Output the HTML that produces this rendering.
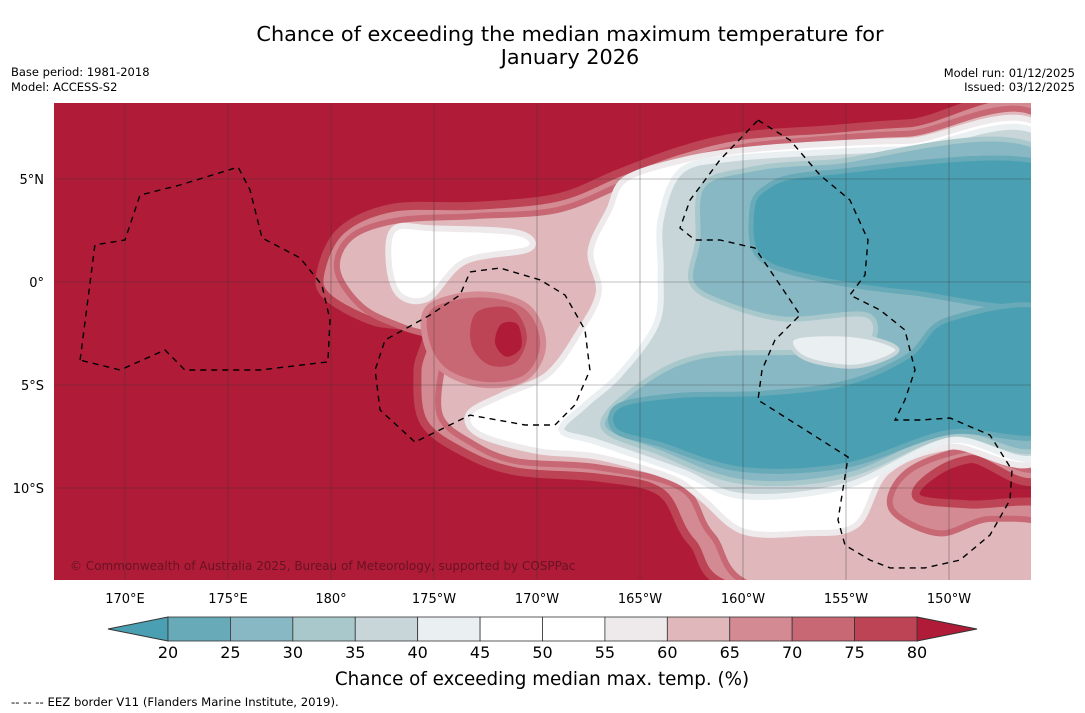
<!DOCTYPE html>
<html><head><meta charset="utf-8"><style>
body{margin:0;background:#fff;font-family:"DejaVu Sans","Liberation Sans",sans-serif;}
svg{display:block}
</style></head><body>
<svg id="chart" width="1085" height="713" viewBox="0 0 1085 713" xmlns="http://www.w3.org/2000/svg" font-family="DejaVu Sans, Liberation Sans, sans-serif">
<rect width="1085" height="713" fill="#fff"/>
<text x="570" y="41" font-size="20.8" text-anchor="middle" fill="#000">Chance of exceeding the median maximum temperature for</text>
<text x="570" y="64" font-size="20.8" text-anchor="middle" fill="#000">January 2026</text>
<text x="11" y="76" font-size="11.5">Base period: 1981-2018</text>
<text x="11" y="91" font-size="11.5">Model: ACCESS-S2</text>
<text x="1075" y="77" font-size="11.5" text-anchor="end">Model run: 01/12/2025</text>
<text x="1075" y="91" font-size="11.5" text-anchor="end">Issued: 03/12/2025</text>
<defs><clipPath id="mapclip"><rect x="54" y="103" width="977" height="477"/></clipPath></defs>
<g id="map" clip-path="url(#mapclip)"></g>
<g id="xticks"></g>
<g id="cbar"></g>
<text x="542" y="685" font-size="18.3" text-anchor="middle">Chance of exceeding median max. temp. (%)</text>
<text x="11" y="706" font-size="11.7">--  --  -- EEZ border V11 (Flanders Marine Institute, 2019).</text>
</svg>
<script>
const NS="http://www.w3.org/2000/svg";
const lonTicks=[170,175,180,185,190,195,200,205,210];
const lonTickLabels=["170°E","175°E","180°","175°W","170°W","165°W","160°W","155°W","150°W"];
const latTicks=[5,0,-5,-10];
const latTickLabels=["5°N","0°","5°S","10°S"];
const levels=[20,25,30,35,40,45,50,55,60,65,70,75,80];
const levelColors=["#68aab8","#88b8c4","#a8c8cc","#c8d6da","#eaf0f2","#ffffff","#ffffff","#eeeaec","#e0b8bc","#d48a92","#c86874","#bc4454"];
const lowColor="#4aa0b2", highColor="#b01c38";
const regionA=[[179.5,0.5],[180.5,2.5],[183,3.6],[187,3.7],[191,4.1],[194,5.3],[197,6.4],[200,7.1],[204,7.4],[208,7.7],[215,7.9],[215,-8.5],[211,-8.6],[209,-9.5],[208.5,-10.5],[211,-10.8],[215,-11],[215,-15],[200.5,-15],[197.5,-12.6],[196,-10.2],[193,-9.5],[189,-9.2],[186.5,-8.3],[184.5,-6.8],[184.2,-4.3],[184.5,-2.4],[182,-1.9],[179.8,-0.7]];
const regionB=[[180.3,0.6],[181,2.2],[183.3,3.0],[187,3.2],[191,3.5],[194.3,4.8],[197.3,5.9],[200.3,6.6],[204,6.95],[208,7.2],[215,7.3],[215,-8.0],[211,-8.1],[208,-9.2],[207.2,-11],[209.5,-12.2],[212,-11.5],[215,-12],[215,-15],[201.5,-15],[198.5,-12.3],[197,-10],[193,-9],[189,-8.7],[186.8,-7.8],[185.3,-6.5],[185.4,-4.2],[186,-3],[183.5,-2.2],[181.5,-1.2]];
const blobC=[[184.8,-1.2],[187.2,-0.6],[189.5,-1.2],[190.3,-3],[189.5,-4.6],[187.5,-5],[185.5,-4.3],[184.6,-2.8]];
const blobC2=[[187,-1.4],[188.8,-1.2],[189.6,-2.6],[189,-4],[187.6,-4.1],[186.7,-3]];
const blobC3=[[188.2,-2],[189.1,-2],[189.3,-3.2],[188.5,-3.7],[187.9,-3]];
const regionW1=[[183.1,2.6],[185,2.6],[189,2.4],[189.6,1.6],[186.5,1.0],[184.7,-0.8],[183.3,-0.6],[182.8,1.0]];
const regionW=[[194.3,5.0],[197,5.9],[200,6.4],[204,6.7],[208,6.85],[215,6.9],[215,-7.8],[210,-8],[207,-9.2],[205.5,-11.8],[203,-12.2],[200,-12.1],[198,-10.5],[196.5,-9.5],[193,-8.5],[190,-8.2],[187.2,-7.4],[186.7,-6.4],[188.3,-5.5],[190.5,-4.5],[192,-2.5],[193,-0.5],[192.6,1.5],[193.5,3.5]];
const regionL=[[197,5.4],[199.5,6],[204,6.3],[208,6.45],[215,6.5],[215,-7.6],[210,-7.7],[205,-9.9],[200,-10.4],[197,-9.2],[193,-7.8],[191.2,-7.2],[192.3,-6],[194,-4.5],[195.8,-2],[196,0.5],[196,3]];
const regionM=[[198,4.6],[200,5.4],[204,5.8],[215,6.0],[215,-7.3],[210,-7.4],[205,-9.4],[200,-9.7],[196,-8.3],[193.2,-7],[195,-5],[198,-3.6],[203,-3.4],[206,-3.1],[206,-1.6],[202,-1.8],[199,-1],[197.5,0],[197.8,2]];
const regionW2=[[202.5,-2.7],[205.5,-2.6],[207.5,-3.3],[205.5,-4.1],[203,-3.7]];
const regionD1=[[201,4.5],[204,5.3],[215,5.6],[215,-0.8],[208,-0.5],[203,0.3],[200.8,1.2],[200.4,3]];
const regionD2=[[194,-6],[197,-5.5],[201,-5.4],[205,-4.9],[208,-3.6],[210,-1.8],[215,-1.5],[215,-7.2],[210,-7.3],[205,-8.9],[200,-9.1],[196,-7.9],[193.8,-7.2]];
const eezA=[[167.82,-3.79],[168.54,1.8],[170,2.04],[170.73,4.22],[172.67,4.71],[175.49,5.58],[176.07,4.47],[176.65,2.14],[178.5,1.17],[179.56,-0.15],[179.95,-1.84],[179.85,-3.88],[176.55,-4.27],[172.91,-4.27],[171.94,-3.30],[169.76,-4.27],[167.82,-3.79]];
const eezB=[[186.75,0.49],[188.2,0.68],[190.15,0.1],[191.36,-0.63],[192.33,-2.33],[192.57,-4.27],[191.84,-5.97],[190.87,-6.94],[189.42,-6.94],[186.75,-6.46],[184.08,-7.77],[182.38,-6.21],[182.14,-4.27],[182.62,-2.82],[184.81,-1.6],[186.26,-0.63],[186.75,0.49]];
const eezC=[[200.73,7.86],[202.28,6.89],[203.74,5.19],[205.19,3.98],[206.07,2.04],[205.92,0.34],[205.19,-0.63],[206.65,-1.36],[207.86,-2.33],[208.35,-4.27],[207.86,-5.73],[207.38,-6.7],[208.59,-6.7],[210.05,-6.6],[211.99,-7.43],[213.06,-9.13],[212.96,-10.58],[211.99,-12.28],[210.53,-13.5],[208.83,-13.88],[207.14,-13.88],[206.17,-13.5],[204.95,-12.77],[204.61,-11.55],[205.1,-8.5],[200.73,-5.73],[200.92,-4.27],[201.55,-2.82],[202.77,-1.6],[201.8,-0.15],[200.58,1.65],[198.88,2.04],[197.67,2.04],[196.94,2.62],[197.43,3.98],[198.88,5.92],[200.73,7.86]];
const X=lon=>125+(lon-170)*20.6;
const Y=lat=>282-lat*20.6;
function el(tag,attrs,parent){const e=document.createElementNS(NS,tag);for(const k in attrs)e.setAttribute(k,attrs[k]);parent.appendChild(e);return e;}
function smoothPath(pts,closed){
  const p=pts.map(d=>[X(d[0]),Y(d[1])]);const n=p.length;let s=`M${p[0][0]},${p[0][1]}`;
  for(let i=0;i<(closed?n:n-1);i++){const p0=p[(i-1+n)%n],p1=p[i],p2=p[(i+1)%n],p3=p[(i+2)%n];
    const c1=[p1[0]+(p2[0]-p0[0])/6,p1[1]+(p2[1]-p0[1])/6],c2=[p2[0]-(p3[0]-p1[0])/6,p2[1]-(p3[1]-p1[1])/6];
    s+=`C${c1[0].toFixed(1)},${c1[1].toFixed(1)} ${c2[0].toFixed(1)},${c2[1].toFixed(1)} ${p2[0].toFixed(1)},${p2[1].toFixed(1)}`;}
  return s+(closed?"Z":"");}
function linePath(pts){return pts.map((d,i)=>(i?"L":"M")+X(d[0]).toFixed(1)+","+Y(d[1]).toFixed(1)).join("");}
const map=document.getElementById("map");
const bg=el("rect",{x:54,y:103,width:977,height:477,fill:highColor},map);


const layers=[[regionA,"#d48a92","#bc4454",8,"region-65-70"],[regionB,"#e0b8bc","#c86874",6,"region-60-65"],[blobC,"#c86874","#d48a92",6,"region-70-75"],[blobC2,"#bc4454","#c86874",4,"region-75-80"],[blobC3,highColor,"#bc4454",3,"region-above-80"],[regionW1,"#ffffff","#eeeaec",6,"region-45-55-west"],[regionW,"#ffffff","#eeeaec",6,"region-45-55"],[regionL,"#c8d6da","#eaf0f2",6,"region-35-40"],[regionM,"#88b8c4","#a8c8cc",5,"region-25-30"],[regionW2,"#eaf0f2","#c8d6da",4,"region-40-45-inner"],[regionD1,lowColor,"#68aab8",5,"region-below-20-north"],[regionD2,lowColor,"#68aab8",5,"region-below-20-south"]];
layers.forEach(l=>{const p=el("path",{d:smoothPath(l[0],true),fill:l[1],stroke:l[2],"stroke-width":l[3],"stroke-linejoin":"round"},map);

});
lonTicks.forEach(v=>{const g=el("line",{x1:X(v),x2:X(v),y1:103,y2:580,stroke:"#333","stroke-width":0.6,"stroke-opacity":0.6},map);

});
latTicks.forEach((v,i)=>{const g=el("line",{x1:54,x2:1031,y1:Y(v),y2:Y(v),stroke:"#333","stroke-width":0.6,"stroke-opacity":0.6},map);


const t=el("text",{x:44,y:Y(v)+5,"font-size":13,"text-anchor":"end"},document.getElementById("chart"));t.textContent=latTickLabels[i];

});
[eezA,eezB,eezC].forEach(e=>{const p=el("path",{d:linePath(e),fill:"none",stroke:"#000","stroke-width":1.4,"stroke-dasharray":"6,5"},map);

});
const cp=el("text",{x:70,y:570,"font-size":12,fill:"#5a1020","fill-opacity":0.85},map);cp.textContent="© Commonwealth of Australia 2025, Bureau of Meteorology, supported by COSPPac";


const xt=document.getElementById("xticks");
lonTicks.forEach((v,i)=>{const t=el("text",{x:X(v),y:603,"font-size":13,"text-anchor":"middle"},xt);t.textContent=lonTickLabels[i];

});
const cb=document.getElementById("cbar");
const CX=v=>168+(v-20)*(749/60);const cy=617,ch=24;
const lt=el("polygon",{points:`108,${cy+ch/2} ${CX(20)},${cy} ${CX(20)},${cy+ch}`,fill:lowColor,stroke:"#333","stroke-width":1},cb);


const rt=el("polygon",{points:`977,${cy+ch/2} ${CX(80)},${cy} ${CX(80)},${cy+ch}`,fill:highColor,stroke:"#333","stroke-width":1},cb);


levelColors.forEach((c,i)=>{const r=el("rect",{x:CX(levels[i]),y:cy,width:CX(levels[i+1])-CX(levels[i]),height:ch,fill:c,stroke:"#333","stroke-width":0.8},cb);

});
levels.forEach(v=>{const t=el("text",{x:CX(v),y:658,"font-size":16,"text-anchor":"middle"},cb);t.textContent=v;

});
</script>
</body></html>
